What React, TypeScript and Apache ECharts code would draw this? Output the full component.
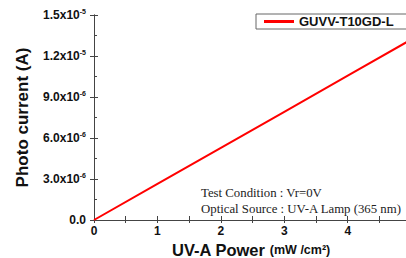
import React, { useEffect, useRef } from "react";
import * as echarts from "echarts";

const powerValues = [0, 1, 2, 3, 4, 4.95];
const currentValues = [0, 2.64e-6, 5.28e-6, 7.92e-6, 1.056e-5, 1.307e-5];
const yTickLabels: Record<string, [string, string]> = {
  "0": ["0.0", ""],
  "0.000003": ["3.0x10", "-6"],
  "0.000006": ["6.0x10", "-6"],
  "0.000009": ["9.0x10", "-6"],
  "0.000012": ["1.2x10", "-5"],
  "0.000015": ["1.5x10", "-5"],
};
const seriesName = "GUVV-T10GD-L";
const noteLines = ["Test Condition : Vr=0V", "Optical Source : UV-A Lamp (365 nm)"];

export default function App() {
  const ref = useRef<HTMLDivElement>(null);
  useEffect(() => {
    const chart = echarts.init(ref.current!, null, { renderer: "svg" });
    const axisColor = "#444";
    const fontFamily = "Liberation Sans, Arial, sans-serif";
    chart.setOption({
      animation: false,
      backgroundColor: "#fff",
      grid: { left: 94, right: -2, top: 15, bottom: 38, containLabel: false, outerBoundsMode: "none" },
      legend: {
        data: [seriesName],
        left: 256,
        top: 14,
        padding: [1, 30, 1, 8],
        itemWidth: 30,
        itemHeight: 3,
        itemGap: 6,
        backgroundColor: "#fff",
        borderColor: "#666",
        borderWidth: 1,
        borderRadius: 0,
        icon: "rect",
        textStyle: { fontFamily, fontWeight: "bold", fontSize: 13, color: "#111" },
      },
      xAxis: [
        {
          type: "value",
          min: 0,
          max: 4.95,
          interval: 1,
          position: "bottom",
          axisLine: { lineStyle: { color: axisColor, width: 1 } },
          axisTick: { inside: true, length: 4, lineStyle: { color: axisColor } },
          minorTick: { show: true, splitNumber: 2, length: 4, lineStyle: { color: axisColor } },
          splitLine: { show: false },
          axisLabel: {
            fontFamily,
            fontWeight: "bold",
            fontSize: 12,
            color: "#111",
            margin: 5,
            showMaxLabel: false,
          },
          name: "{b|UV-A Power }{u|(mW /cm²)}",
          nameLocation: "middle",
          nameGap: 21,
          nameTextStyle: {
            lineHeight: 15,
            rich: {
              b: { fontFamily, fontWeight: "bold", fontSize: 16.5, color: "#111", lineHeight: 15 },
              u: { fontFamily, fontWeight: "bold", fontSize: 12.5, color: "#111", lineHeight: 15 },
            },
          },
        },
        {
          type: "value",
          min: 0,
          max: 4.95,
          interval: 0.5,
          position: "top",
          axisLine: { lineStyle: { color: axisColor, width: 1 } },
          axisTick: { inside: true, length: 3, lineStyle: { color: axisColor } },
          axisLabel: { show: false },
          splitLine: { show: false },
        },
      ],
      yAxis: [
        {
          type: "value",
          min: 0,
          max: 1.5e-5,
          interval: 3e-6,
          axisLine: { show: true, lineStyle: { color: axisColor, width: 1 } },
          axisTick: { show: true, inside: true, length: 4, lineStyle: { color: axisColor } },
          minorTick: { show: true, splitNumber: 2, length: 3, lineStyle: { color: axisColor } },
          splitLine: { show: false },
          axisLabel: {
            margin: 8,
            formatter: (v: number) => {
              const key = String(Math.round(v * 1e7) / 1e7);
              const t = yTickLabels[key];
              if (!t) return "";
              return t[1] ? `{b|${t[0]}}{s|${t[1]}}` : `{b|${t[0]}}`;
            },
            rich: {
              b: { fontFamily, fontWeight: "bold", fontSize: 12, color: "#111" },
              s: { fontFamily, fontWeight: "bold", fontSize: 7, color: "#111", padding: [0, 0, 8, 0] },
            },
          },
          name: "Photo current (A)",
          nameLocation: "middle",
          nameGap: 63,
          nameTextStyle: { fontFamily, fontWeight: "bold", fontSize: 17, color: "#111" },
        },
        {
          type: "value",
          min: 0,
          max: 1.5e-5,
          interval: 3e-6,
          position: "right",
          axisLine: { show: true, lineStyle: { color: axisColor, width: 1 } },
          axisTick: { show: true, inside: true, length: 4, lineStyle: { color: axisColor } },
          axisLabel: { show: false },
          splitLine: { show: false },
        },
      ],
      graphic: [
        {
          type: "text",
          left: 201,
          top: 185,
          style: {
            text: noteLines.join("\n"),
            font: '12.8px "Liberation Serif", "Times New Roman", serif',
            fill: "#222",
            lineHeight: 16,
          },
        },
      ],
      series: [
        {
          name: seriesName,
          type: "line",
          data: powerValues.map((p, i) => [p, currentValues[i]]),
          showSymbol: false,
          symbol: "none",
          lineStyle: { color: "#ff0000", width: 2 },
          itemStyle: { color: "#ff0000" },
        },
      ],
    });
    return () => chart.dispose();
  }, []);
  return <div ref={ref} style={{ width: 406, height: 258, position: "absolute", left: 0, top: 0 }} />;
}
